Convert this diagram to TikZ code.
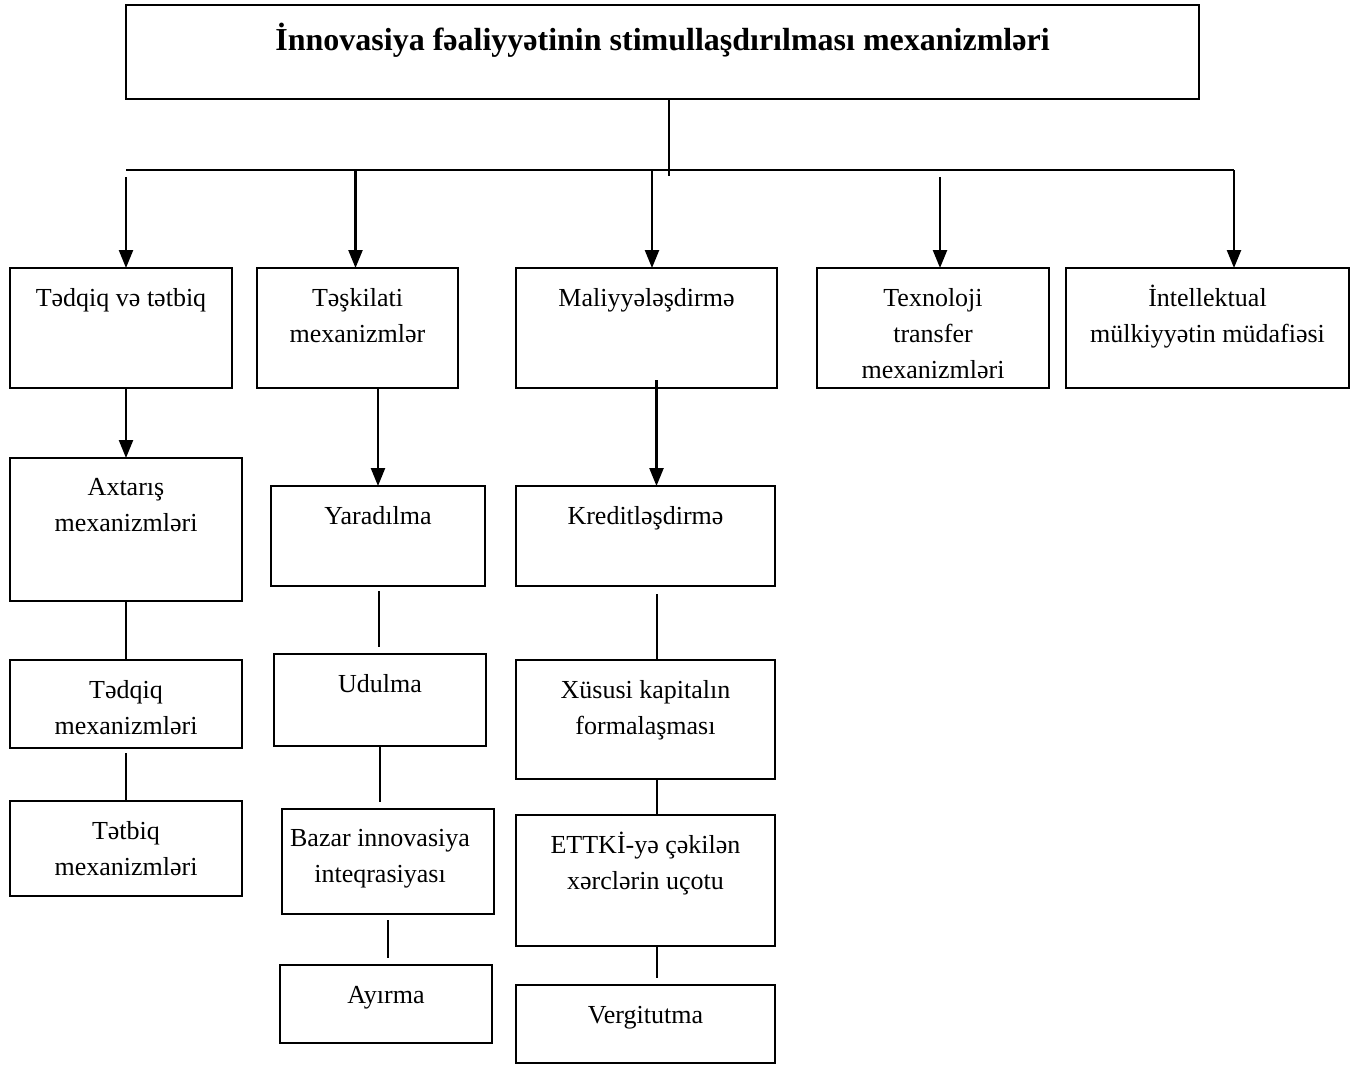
\documentclass[tikz,border=0pt]{standalone}
\usepackage{fontspec}
\setmainfont{Liberation Serif}
\usetikzlibrary{arrows.meta, calc}

\begin{document}
\begin{tikzpicture}[x=0.5pt, y=-0.5pt,
            box/.style={draw, black, line width=1pt, anchor=north west, inner sep=0pt, outer sep=0pt},
            txt/.style={anchor=north, yshift=-6.4pt, align=center, inner sep=0pt, font=\fontsize{13}{18}\selectfont, execute at begin node=\strut},
            txtm/.style={txt, yshift=-3.5pt},
            arr/.style={draw, black, line width=1.2pt, -{Triangle[width=7pt, length=9pt]}},
            ln/.style={draw, black, line width=1pt}]
            \useasboundingbox (0,0) rectangle (1360,1066);

            \node[box, minimum width=536.5pt, minimum height=47pt,
                label={[anchor=base, yshift=-22.5pt, inner sep=0pt, font=\fontsize{16}{18}\selectfont\bfseries]north:{İnnovasiya fəaliyyətinin stimullaşdırılması mexanizmləri}}] (title) at (126,5) {};

            \node[box, minimum width=111pt, minimum height=60pt, label={[txt]north:{Tədqiq və tətbiq}}] (td) at (10,268) {};
            \node[box, minimum width=100.5pt, minimum height=60pt, label={[txtm]north:{Təşkilati\\mexanizmlər}}] (ts) at (257,268) {};
            \node[box, minimum width=130.5pt, minimum height=60pt, label={[txt]north:{Maliyyələşdirmə}}] (ml) at (516,268) {};
            \node[box, minimum width=116pt, minimum height=60pt, label={[txtm]north:{Texnoloji\\transfer\\mexanizmləri}}] (tx) at (817,268) {};
            \node[box, minimum width=141.5pt, minimum height=60pt, label={[txtm, yshift=1.75pt]north:{İntellektual\\mülkiyyətin müdafiəsi}}] (im) at (1066,268) {};

            \node[box, minimum width=116pt, minimum height=71.5pt, label={[txtm]north:{Axtarış\\mexanizmləri}}] (ax) at (10,458) {};
            \node[box, minimum width=116pt, minimum height=44pt, label={[txtm]north:{Tədqiq\\mexanizmləri}}] (tq) at (10,660) {};
            \node[box, minimum width=116pt, minimum height=47.5pt, label={[txtm]north:{Tətbiq\\mexanizmləri}}] (tb) at (10,801) {};

            \node[box, minimum width=107pt, minimum height=50pt, label={[txt]north:{Yaradılma}}] (ya) at (271,486) {};
            \node[box, minimum width=106pt, minimum height=46pt, label={[txt]north:{Udulma}}] (ud) at (274,654) {};
            \node[box, minimum width=106pt, minimum height=52.5pt, label={[txtm, xshift=-4pt]north:{Bazar innovasiya\\inteqrasiyası}}] (bz) at (282,809) {};
            \node[box, minimum width=106pt, minimum height=39pt, label={[txt]north:{Ayırma}}] (ay) at (280,965) {};

            \node[box, minimum width=129.5pt, minimum height=50pt, label={[txt]north:{Kreditləşdirmə}}] (kr) at (516,486) {};
            \node[box, minimum width=129.5pt, minimum height=59.5pt, label={[txtm]north:{Xüsusi kapitalın\\formalaşması}}] (xk) at (516,660) {};
            \node[box, minimum width=129.5pt, minimum height=65.5pt, label={[txtm, yshift=1.75pt]north:{ETTKİ-yə çəkilən\\xərclərin uçotu}}] (et) at (516,815) {};
            \node[box, minimum width=129.5pt, minimum height=39pt, label={[txt]north:{Vergitutma}}] (vg) at (516,985) {};

            \coordinate (hub) at (669,170);
            \coordinate (lend) at (126,170);
            \coordinate (rend) at (1234,170);

            \draw[ln] (title.south -| hub) -- ($(hub)+(0,6)$);
            \draw[black, line width=1pt] (lend) -- (rend);
            \draw[arr] ($(lend)+(0,7)$) -- (lend |- td.north);
            \draw[arr] ($(ts.north |- lend)+(-2,0)$) -- ($(ts.north)+(-2,0)$);
            \draw[arr] ($(ml.north |- lend)+(5.5,0)$) -- ($(ml.north)+(5.5,0)$);
            \draw[arr] ($(tx.north |- lend)+(7,7)$) -- ($(tx.north)+(7,0)$);
            \draw[arr] (rend) -- (rend |- im.north);

            \draw[arr] (ax.north |- td.south) -- (ax.north);
            \draw[arr] (ya.north |- ts.south) -- (ya.north);
            \draw[arr] ($(kr.north |- ml.south)+(11,-8)$) -- ($(kr.north)+(11,0)$);

            \draw[ln] (ax.south) -- (tq.north);
            \draw[ln] ($(tq.south)+(0,5)$) -- (tb.north);

            \draw[ln] ($(ya.south)+(1,5)$) -- ($(ya.south |- ud.north)+(1,-7)$);
            \draw[ln] (ud.south) -- ($(ud.south |- bz.north)+(0,-7)$);
            \draw[ln] ($(bz.south)+(0,6)$) -- ($(bz.south |- ay.north)+(0,-7)$);

            \draw[ln] ($(kr.south)+(11,8)$) -- ($(xk.north)+(11,0)$);
            \draw[ln] ($(xk.south)+(11,0)$) -- ($(et.north)+(11,0)$);
            \draw[ln] ($(et.south)+(11,0)$) -- ($(vg.north)+(11,-7)$);
        \end{tikzpicture}
\end{document}
